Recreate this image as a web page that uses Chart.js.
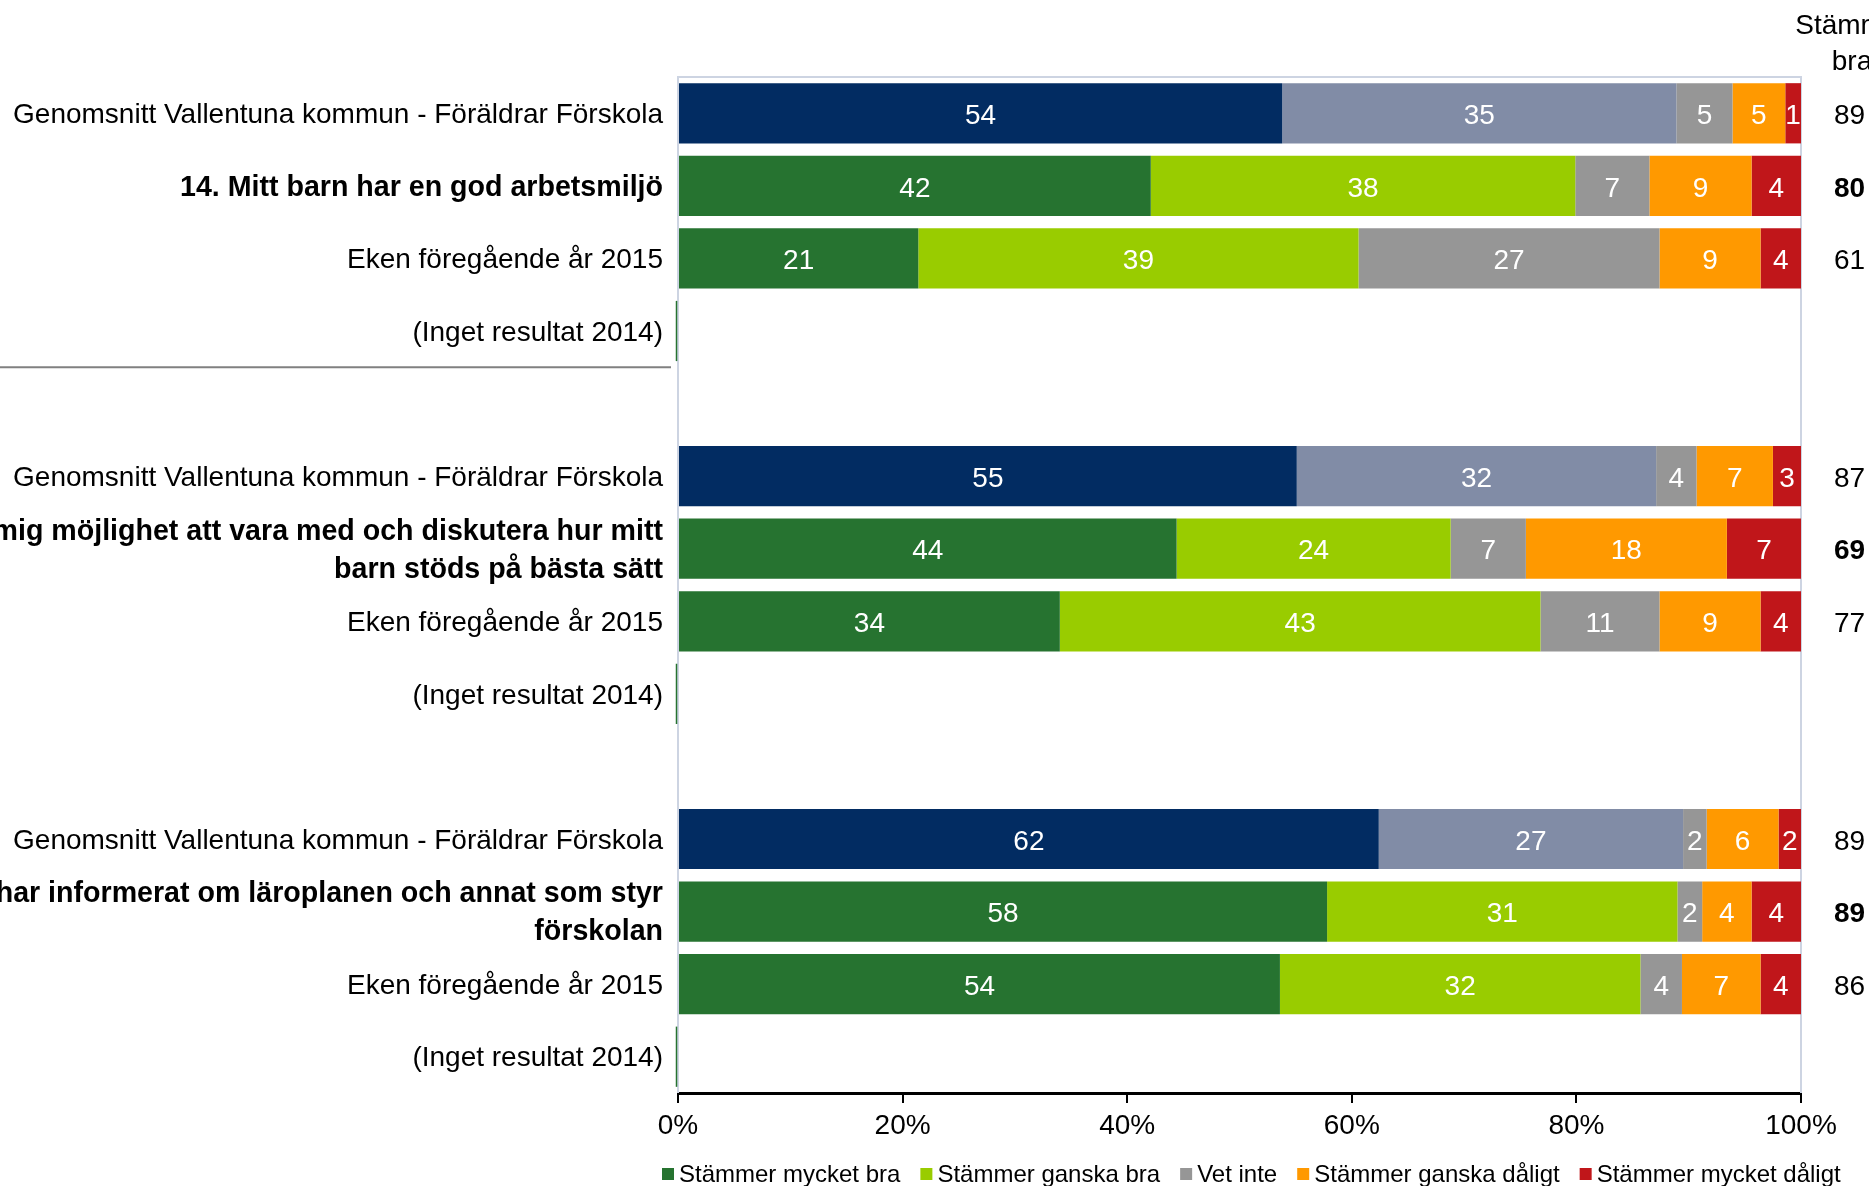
<!DOCTYPE html>
<html><head><meta charset="utf-8">
<script src="https://cdn.jsdelivr.net/npm/chart.js@4.4.1/dist/chart.umd.min.js"></script>
<style>html,body{margin:0;padding:0;background:#fff;overflow:hidden}#wrap{width:1869px;height:1186px;position:relative}</style>
</head><body><div id="wrap"><canvas id="c" width="1869" height="1186"></canvas></div>
<script>
const categories = [
  "Genomsnitt Vallentuna kommun - Föräldrar Förskola",
  "14. Mitt barn har en god arbetsmiljö",
  "Eken föregående år 2015",
  "(Inget resultat 2014)",
  "",
  "Genomsnitt Vallentuna kommun - Föräldrar Förskola",
  ["15. Förskolan ger mig möjlighet att vara med och diskutera hur mitt", "barn stöds på bästa sätt"],
  "Eken föregående år 2015",
  "(Inget resultat 2014)",
  "",
  "Genomsnitt Vallentuna kommun - Föräldrar Förskola",
  ["16. Förskolan har informerat om läroplanen och annat som styr", "förskolan"],
  "Eken föregående år 2015",
  "(Inget resultat 2014)"
];
const boldRows = [1, 6, 11];
const averageRows = [0, 5, 10];
const noResultRows = [3, 8, 13];
const seriesNames = ["Stämmer mycket bra", "Stämmer ganska bra", "Vet inte", "Stämmer ganska dåligt", "Stämmer mycket dåligt"];
const mycketBra    = [53.8, 42.1, 21.4, null, null, 55.1, 44.4, 34.0, null, null, 62.4, 57.8, 53.6, null];
const ganskaBra    = [35.1, 37.8, 39.2, null, null, 32.0, 24.4, 42.8, null, null, 27.1, 31.2, 32.1, null];
const vetInte      = [5.0, 6.6, 26.8, null, null, 3.6, 6.7, 10.6, null, null, 2.1, 2.2, 3.7, null];
const ganskaDaligt = [4.7, 9.1, 9.0, null, null, 6.8, 17.9, 9.0, null, null, 6.4, 4.4, 7.0, null];
const mycketDaligt = [1.4, 4.4, 3.6, null, null, 2.5, 6.6, 3.6, null, null, 2.0, 4.4, 3.6, null];
const stammerBra   = [89, 80, 61, null, null, 87, 69, 77, null, null, 89, 89, 86, null];
const stammerBraHeader = ["Stämmer", "bra"];
const xTicks = [0, 20, 40, 60, 80, 100];

const FONT = "'Liberation Sans', Arial, Helvetica, sans-serif";
const seriesColors = ["#267330", "#99CC00", "#969696", "#FF9900", "#C0161A"];
const averageColors = ["#022C62", "#818CA6"];

function colorFor(series) {
  return (ctx) => {
    if (series < 2 && averageRows.includes(ctx.dataIndex)) return averageColors[series];
    return seriesColors[series];
  };
}

const allSeries = [mycketBra, ganskaBra, vetInte, ganskaDaligt, mycketDaligt];

const frame = {
  id: 'frame',
  beforeDatasetsDraw(chart) {
    const {ctx, chartArea: a} = chart;
    const ys = chart.scales.y;
    ctx.save();
    ctx.strokeStyle = '#CDD4E2';
    ctx.lineWidth = 2;
    ctx.beginPath();
    ctx.moveTo(a.left, a.bottom);
    ctx.lineTo(a.left, a.top);
    ctx.lineTo(a.right, a.top);
    ctx.lineTo(a.right, a.bottom);
    ctx.stroke();
    const meta = chart.getDatasetMeta(0);
    const h = (meta.data[0] && meta.data[0].height) || 60;
    ctx.strokeStyle = seriesColors[0];
    ctx.lineWidth = 1.5;
    noResultRows.forEach(i => {
      const yc = ys.getPixelForValue(i);
      ctx.beginPath();
      ctx.moveTo(a.left - 1.5, yc - h / 2);
      ctx.lineTo(a.left - 1.5, yc + h / 2);
      ctx.stroke();
    });
    ctx.restore();
  }
};

const valueLabels = {
  id: 'valueLabels',
  afterDatasetsDraw(chart) {
    const ctx = chart.ctx;
    ctx.save();
    ctx.font = '28px ' + FONT;
    ctx.fillStyle = '#fff';
    ctx.textAlign = 'center';
    ctx.textBaseline = 'middle';
    chart.data.datasets.forEach((ds, i) => {
      const meta = chart.getDatasetMeta(i);
      meta.data.forEach((el, j) => {
        const v = ds.data[j];
        if (v == null) return;
        const p = el.getProps(['x', 'base', 'y'], true);
        ctx.fillText(String(Math.round(v)), (p.x + p.base) / 2, p.y + 3);
      });
    });
    ctx.restore();
  }
};

const extras = {
  id: 'extras',
  afterDraw(chart) {
    const ctx = chart.ctx;
    const ys = chart.scales.y;
    const a = chart.chartArea;
    ctx.save();
    ctx.fillStyle = '#000';
    ctx.textBaseline = 'middle';
    ctx.textAlign = 'left';
    stammerBra.forEach((v, i) => {
      if (v == null) return;
      ctx.font = (boldRows.includes(i) ? 'bold ' : '') + '28px ' + FONT;
      ctx.fillText(String(v), a.right + 33, ys.getPixelForValue(i) + 3);
    });
    ctx.font = '28px ' + FONT;
    ctx.textAlign = 'center';
    stammerBraHeader.forEach((t, k) => ctx.fillText(t, a.right + 51, 26 + k * 36));
    const sy = (ys.getPixelForValue(3) + ys.getPixelForValue(4)) / 2;
    ctx.strokeStyle = '#808080';
    ctx.lineWidth = 2;
    ctx.beginPath();
    ctx.moveTo(0, sy);
    ctx.lineTo(a.left - 7, sy);
    ctx.stroke();
    ctx.font = '24px ' + FONT;
    ctx.textAlign = 'left';
    let x = a.left - 16;
    const ly = 1174;
    seriesNames.forEach((name, i) => {
      ctx.fillStyle = seriesColors[i];
      ctx.fillRect(x, ly - 6, 12, 12);
      ctx.fillStyle = '#000';
      ctx.fillText(name, x + 17, ly + 1);
      x += 17 + ctx.measureText(name).width + 20;
    });
    ctx.restore();
  }
};

new Chart(document.getElementById('c'), {
  type: 'bar',
  data: {
    labels: categories,
    datasets: allSeries.map((d, i) => ({
      label: seriesNames[i],
      data: d,
      backgroundColor: colorFor(i),
      borderWidth: 0,
      barPercentage: 0.83,
      categoryPercentage: 1
    }))
  },
  options: {
    indexAxis: 'y',
    responsive: false,
    animation: false,
    devicePixelRatio: 1,
    layout: {padding: {top: 77, right: 68, left: 0, bottom: 33}},
    plugins: {legend: {display: false}, tooltip: {enabled: false}},
    scales: {
      x: {
        stacked: true,
        min: 0, max: 100,
        afterBuildTicks(scale) { scale.ticks = xTicks.map(v => ({value: v})); },
        afterFit(scale) { scale.height = 60; },
        ticks: {
          callback: v => v + '%',
          font: {family: FONT, size: 28},
          color: '#000',
          padding: 6,
          maxRotation: 0
        },
        grid: {display: true, drawOnChartArea: false, drawTicks: true, tickLength: 10, color: '#000', lineWidth: 2},
        border: {display: true, color: '#000', width: 3}
      },
      y: {
        stacked: true,
        afterFit(scale) { scale.width = 678; },
        ticks: {
          autoSkip: false,
          color: '#000',
          padding: 15,
          labelOffset: 2,
          font: (ctx) => boldRows.includes(ctx.index)
            ? {family: FONT, size: 28.6, lineHeight: 1.33, weight: 'bold'}
            : {family: FONT, size: 28, lineHeight: 1.36, weight: 'normal'}
        },
        grid: {display: false, drawTicks: false},
        border: {display: false}
      }
    }
  },
  plugins: [frame, valueLabels, extras]
});
</script>
</body></html>
